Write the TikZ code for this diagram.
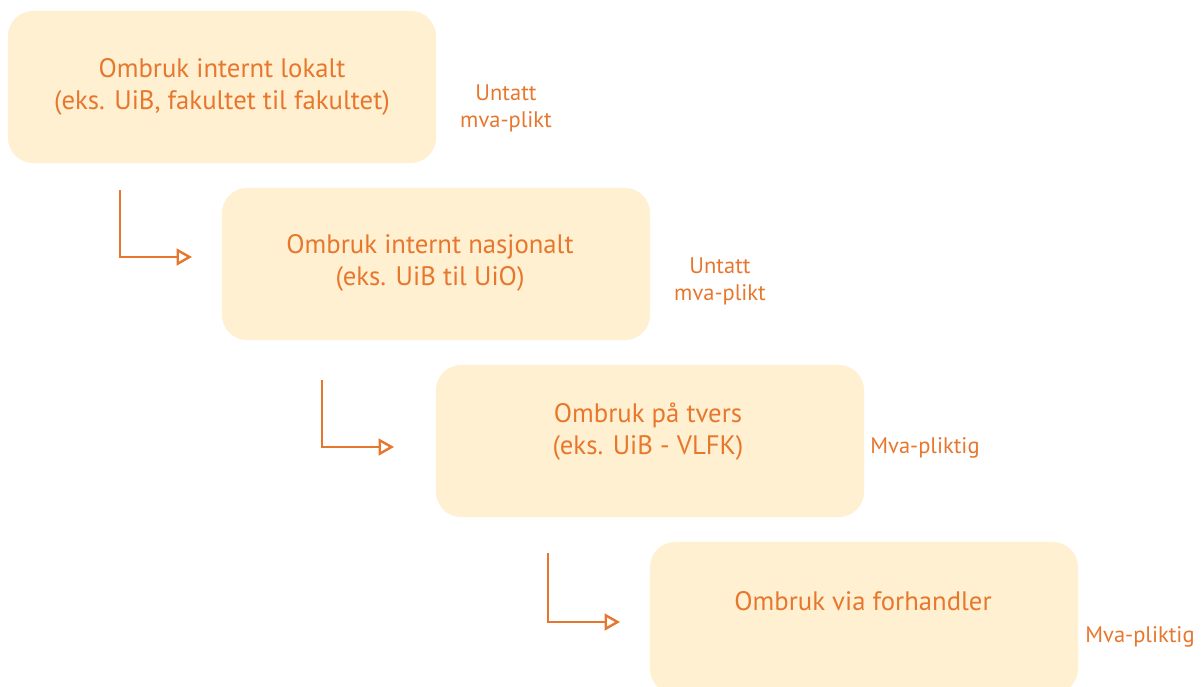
\documentclass[tikz,border=0pt]{standalone}
\usepackage{fontspec}
\setmainfont{PT Sans}
\usetikzlibrary{arrows.meta,positioning}
\definecolor{oransje}{HTML}{E8772E}
\definecolor{krem}{HTML}{FEF0D0}
\tikzset{
	boks/.style={draw=none, fill=krem, rounded corners=18pt,
		minimum width=10.7cm, minimum height=3.8cm, inner sep=0pt},
	tekst/.style={text=oransje, align=center, font=\fontsize{19}{22.7}\selectfont},
	merknad/.style={text=oransje, align=center, font=\fontsize{16}{19.2}\selectfont},
	pil/.style={draw=oransje, line width=1.7pt,
		-{Triangle[open, length=11pt, width=12pt, line width=1.7pt]}}
}

\begin{document}
\begin{tikzpicture}[x=0.025cm, y=-0.025cm]
	\useasboundingbox (0,0) rectangle (1203,686);
	\clip (0,0) rectangle (1203,686);
	\fill[white] (0,0) rectangle (1203,686);
	% boksene
	\node[boks] (b1) at (222,87) {};
	\node[boks] (b2) at (436,264) {};
	\node[boks] (b3) at (650,441) {};
	\node[boks] (b4) at (864,618) {};
	% tekst i boksene
	\node[tekst] (t1) at (222,87) {Ombruk internt lokalt\\(eks. UiB, fakultet til fakultet)};
	\node[tekst] (t2) at (430,263) {Ombruk internt nasjonalt\\(eks. UiB til UiO)};
	\node[tekst] (t3) at (648,432) {Ombruk på tvers\\(eks. UiB - VLFK)};
	\node[tekst] (t4) at (863,601) {Ombruk via forhandler};
	% mva
	\node[merknad] (m1) at (506,108) {Untatt\\mva-plikt};
	\node[merknad] (m2) at (720,281) {Untatt\\mva-plikt};
	\node[merknad] (m3) at (925,448) {Mva-pliktig};
	\node[merknad] (m4) at (1140,637) {Mva-pliktig};
	% piler
	\foreach \i/\x/\y/\z in {1/120/190/257, 2/322/380/447, 3/548/553/622} {
		\coordinate (s\i) at (\x,\y);
		\coordinate (e\i) at (\x+72,\z);
		\draw[pil] (s\i) |- (e\i);
	}
\end{tikzpicture}
\end{document}
